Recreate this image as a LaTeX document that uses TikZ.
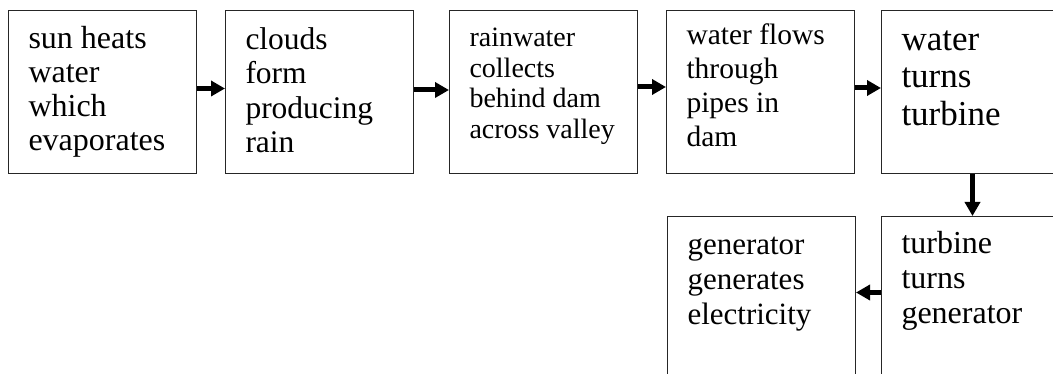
\documentclass[tikz,border=0pt]{standalone}
\usepackage{fontspec}
\setmainfont{Liberation Serif}
\usepackage{tikz}
\usetikzlibrary{positioning,arrows.meta}
\tikzstyle{stage} = [rectangle, draw=black!85, line width=1pt, text width=148pt, inner xsep=20pt, inner ysep=0pt, align=flush left]
\tikzstyle{arrow} = [line width=5pt, -{Triangle[length=14pt,width=15pt]}]
\newcommand{\fs}[2]{\fontsize{#1}{#2}\selectfont}

\begin{document}
\begin{tikzpicture}[x=1pt, y=-1pt]

\useasboundingbox (0,0) rectangle (1053,374);
\clip (0,0) rectangle (1053,374);

\node (sunheats) [stage, anchor=north west, font=\fs{32}{34}, text height=38pt, text depth=125pt] at (8,10) {sun heats\\ water\\ which\\ evaporates};

\node (clouds) [stage, right=28pt of sunheats, font=\fs{31.5}{34.3}, text height=39pt, text depth=124pt] {clouds\\ form\\ producing\\ rain};

\node (rainwater) [stage, right=35pt of clouds, font=\fs{28}{30.7}, text height=36pt, text depth=127pt] {rainwater\\ collects\\ behind dam\\ across valley};

\node (pipes) [stage, right=28pt of rainwater, font=\fs{29.5}{33.7}, text height=34.5pt, text depth=128.5pt] {water flows\\ through\\ pipes in\\ dam};

\node (turbine) [stage, right=26pt of pipes, font=\fs{35}{37.5}, text height=40pt, text depth=123pt] {water\\ turns\\ turbine};

\node (generator) [stage, below=42pt of turbine, font=\fs{32}{35}, text height=37pt, text depth=126pt] {turbine\\ turns\\ generator};

\node (electricity) [stage, left=25pt of generator, font=\fs{31}{35}, text height=38pt, text depth=125pt] {generator\\ generates\\ electricity};

\draw [arrow] ([yshift=3.5pt]sunheats.east) -- ([yshift=3.5pt]clouds.west);
\draw [arrow] ([yshift=2pt]clouds.east) -- ([yshift=2pt]rainwater.west);
\draw [arrow] ([yshift=5pt]rainwater.east) -- ([yshift=5pt]pipes.west);
\draw [arrow] ([yshift=4pt]pipes.east) -- ([yshift=4pt]turbine.west);
\draw [arrow] ([xshift=-3pt]turbine.south) -- ([xshift=-3pt]generator.north);
\draw [arrow] ([yshift=5.5pt]generator.west) -- ([yshift=5.5pt]electricity.east);

\end{tikzpicture}
\end{document}
